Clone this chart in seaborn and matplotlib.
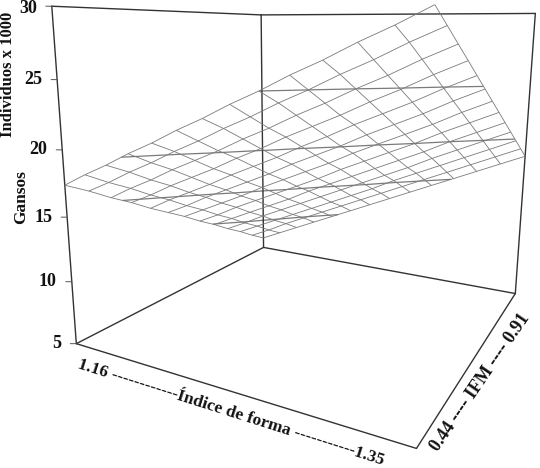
import numpy as np, matplotlib
matplotlib.use('Agg')
import matplotlib.pyplot as plt
import seaborn as sns
from mpl_toolkits.mplot3d import proj3d

sns.set_theme(style='white', font='Liberation Serif')

x_grid = [1.16,1.1746,1.1892,1.2038,1.2185,1.2331,1.2477,1.2623,1.2769,1.2915,1.3062,1.3208,1.3354,1.35]
y_grid = [.44,.4792,.5183,.5575,.5967,.6358,.675,.7142,.7533,.7925,.8317,.8708,.91]
z_rows = [
 [17.4,18.4,19.3,20.3,21.2,22.2,23.1,24.1,25.0,26.0,26.9,27.9,28.8,29.8],
 [16.5,17.4,18.4,19.3,20.3,21.2,22.2,23.1,24.1,25.0,26.0,26.9,27.9,28.8],
 [15.5,16.5,17.4,18.4,19.3,20.2,21.2,22.1,23.1,24.0,25.0,25.9,26.9,27.8],
 [14.6,15.5,16.5,17.4,18.3,19.3,20.2,21.2,22.1,23.0,24.0,24.9,25.9,26.8],
 [13.6,14.6,15.5,16.4,17.4,18.3,19.2,20.2,21.1,22.1,23.0,23.9,24.9,25.8],
 [12.7,13.6,14.6,15.5,16.4,17.3,18.3,19.2,20.1,21.1,22.0,22.9,23.9,24.8],
 [11.8,12.7,13.6,14.5,15.5,16.4,17.3,18.2,19.2,20.1,21.0,21.9,22.9,23.8],
 [10.8,11.7,12.7,13.6,14.5,15.4,16.3,17.3,18.2,19.1,20.0,21.0,21.9,22.8],
 [9.9,10.8,11.7,12.6,13.5,14.5,15.4,16.3,17.2,18.1,19.0,20.0,20.9,21.8],
 [8.9,9.8,10.8,11.7,12.6,13.5,14.4,15.3,16.2,17.1,18.1,19.0,19.9,20.8],
 [8.0,8.9,9.8,10.7,11.6,12.5,13.4,14.3,15.3,16.2,17.1,18.0,18.9,19.8],
 [7.0,7.9,8.9,9.8,10.7,11.6,12.5,13.4,14.3,15.2,16.1,17.0,17.9,18.8],
 [6.1,7.0,7.9,8.8,9.7,10.6,11.5,12.4,13.3,14.2,15.1,16.0,16.9,17.8],
]
z_ticks = [5,10,15,20,25,30]
contour_levels = [10,15,20,25]
x_lim = (1.16,1.35)
y_lim = (.44,.91)
z_lim = (5,30)

fig = plt.figure(figsize=(5.4,4.68),dpi=100)
ax = fig.add_axes([0.06268,0.030702,1.020814,1.177863],projection='3d')
x0,x1 = x_lim; y0,y1 = y_lim; z0,z1 = z_lim
ax.view_init(elev=11.85064,azim=-61.99735,roll=-0.37823)
ax.set_proj_type('persp',focal_length=0.22489)
ax.set_box_aspect((1.09133,1.05829,1))
X,Y = np.meshgrid(x_grid,y_grid)
Z = np.array(z_rows)
ax.plot_wireframe(X,Y,Z,rstride=1,cstride=1,color='#7a7a7a',linewidth=0.6)
ax.contour(X,Y,Z,levels=contour_levels,colors='#7a7a7a',linewidths=0.9)
ec = '#333333'
for xs,ys,zs in [((x0,x1),(y0,y0),(z0,z0)),((x1,x1),(y0,y1),(z0,z0)),((x1,x0),(y1,y1),(z0,z0)),((x0,x0),(y1,y0),(z0,z0)),
                 ((x0,x0),(y0,y0),(z0,z1)),((x0,x0),(y1,y1),(z0,z1)),((x1,x1),(y1,y1),(z0,z1)),
                 ((x0,x0),(y0,y1),(z1,z1)),((x0,x1),(y1,y1),(z1,z1))]:
    ax.plot(xs,ys,zs,color=ec,lw=1.0)
ax.set_xlim(x0,x1); ax.set_ylim(y0,y1); ax.set_zlim(z0,z1)
ax.set_axis_off()
M = ax.get_proj()
fs = 13
tc = '#111111'
for z in z_ticks:
    u,v,_ = proj3d.proj_transform(x0,y0,z,M)
    ax.annotate('',xy=(u,v),xycoords='data',xytext=(-6,0),textcoords='offset pixels',
                arrowprops=dict(arrowstyle='-',color='#555555',lw=0.7,shrinkA=0,shrinkB=0),annotation_clip=False)
    dy = -2 if z == z1 else 0
    ax.annotate(str(z),xy=(u,v),xycoords='data',xytext=(-15,dy),textcoords='offset pixels',ha='right',va='center',
                fontsize=fs,fontweight='bold',color=tc,annotation_clip=False)
def label(px,py,txt,rot,size=fs):
    fig.text(px/540,1-py/468,txt,rotation=rot,rotation_mode='anchor',ha='center',va='center',
             fontsize=size,fontweight='bold',color=tc)
label(8,74,'Individuos x 1000',90,12)
label(21,197,'Gansos',90,12.5)
label(231,412.5,'1.16 ------------Índice de forma -----------1.35',-17.6,12.5)
label(480,382,'0.44 ---- IFM ---- 0.91',55.6)
fig.savefig('out.png',dpi=100)
